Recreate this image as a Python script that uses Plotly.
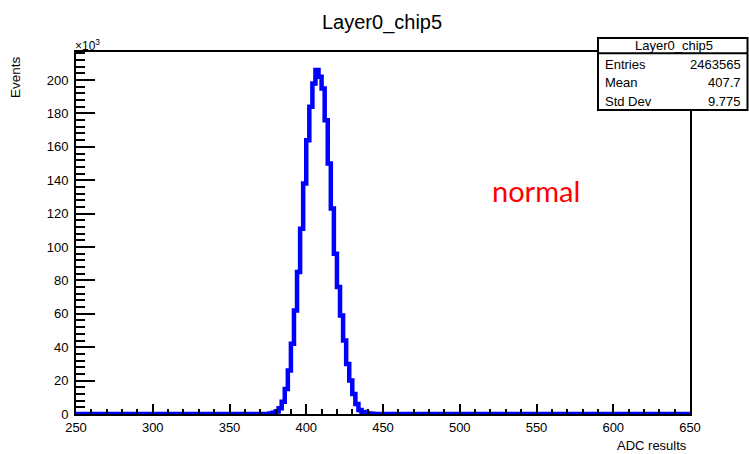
import plotly.graph_objects as go

# ---- data ----
x_min, x_max, bin_width = 250, 650, 2
peak_first_bin = 376  # lower edge of first non-empty bin
peak_counts_k = [0.3, 0.8, 1.5, 3.4, 7.4, 15, 26, 42, 62, 85, 111, 138, 164, 184,
                 198, 206, 202, 195, 176, 150, 123, 96, 76, 59, 44, 30, 20, 12,
                 6, 2.4, 1.2, 0.6, 0.3, 0.15]
y_ticks = [0, 20, 40, 60, 80, 100, 120, 140, 160, 180, 200]
x_ticks = [250, 300, 350, 400, 450, 500, 550, 600, 650]
stats_title = "Layer0_chip5"
stats_rows = [("Entries", "2463565"), ("Mean", "407.7"), ("Std Dev", "9.775")]

# build the full histogram (bins with no entries are zero)
n_bins = (x_max - x_min) // bin_width
edges = [x_min + i * bin_width for i in range(n_bins + 1)]
counts = [0.0] * n_bins
start = (peak_first_bin - x_min) // bin_width
for i, c in enumerate(peak_counts_k):
    counts[start + i] = c
y_step = counts + [counts[-1]]

# ---- geometry helpers (pixel -> paper) ----
W, H = 749, 454
L, R, T, B = 76, 690, 52, 414
def fx(px):
    return (px - L) / (R - L)
def fy(py):
    return (B - py) / (B - T)

fig = go.Figure()
fig.add_trace(go.Scatter(
    x=edges, y=y_step, mode="lines", line=dict(color="#0000FF", width=4.5, shape="hv"),
    hoverinfo="skip", showlegend=False))

font_axis = "Liberation Sans, Arial, sans-serif"

fig.update_layout(
    width=W, height=H,
    margin=dict(l=L, r=W - R, t=T, b=H - B, pad=0),
    paper_bgcolor="white", plot_bgcolor="white",
    showlegend=False,
    font=dict(family=font_axis, color="black", size=13),
    xaxis=dict(
        range=[x_min, x_max], tickvals=x_ticks, ticktext=[str(v) for v in x_ticks],
        ticks="inside", ticklen=10, tickwidth=1.5, tickcolor="black",
        minor=dict(ticks="inside", ticklen=5, dtick=10, tickwidth=1.5, tickcolor="black", showgrid=False),
        showline=True, linecolor="black", linewidth=2, mirror=True,
        showgrid=False, zeroline=False, tickfont=dict(size=13),
    ),
    yaxis=dict(
        range=[0, 216.8], tickvals=y_ticks, ticktext=[str(v) for v in y_ticks],
        ticks="inside", ticklen=19, tickwidth=1.5, tickcolor="black",
        minor=dict(ticks="inside", ticklen=9, dtick=4, tickwidth=1.5, tickcolor="black", showgrid=False),
        showline=True, linecolor="black", linewidth=2, mirror=True,
        showgrid=False, zeroline=False, tickfont=dict(size=13),
        ticklabelstandoff=3,
    ),
)

annotations = [
    dict(text="Layer0_chip5", x=fx(382), y=fy(22), xref="paper", yref="paper",
         xanchor="center", yanchor="middle", showarrow=False,
         font=dict(size=20, family=font_axis, color="black")),
    dict(text="×10<sup>3</sup>", x=fx(73), y=fy(45), xref="paper", yref="paper",
         xanchor="left", yanchor="middle", showarrow=False,
         font=dict(size=12, family=font_axis, color="black")),
    dict(text="Events", x=fx(15), y=fy(77), xref="paper", yref="paper",
         xanchor="center", yanchor="middle", textangle=-90, showarrow=False,
         font=dict(size=13.5, family=font_axis, color="black")),
    dict(text="ADC results", x=fx(689), y=fy(445.5), xref="paper", yref="paper",
         xanchor="right", yanchor="middle", showarrow=False,
         font=dict(size=13, family=font_axis, color="black")),
    dict(text="normal", x=fx(536), y=fy(190), xref="paper", yref="paper",
         xanchor="center", yanchor="middle", showarrow=False,
         font=dict(size=29, family="Lato, Carlito, sans-serif", color="#FF0000")),
    dict(text=stats_title, x=fx(674), y=fy(45.5), xref="paper", yref="paper",
         xanchor="center", yanchor="middle", showarrow=False,
         font=dict(size=13, family=font_axis, color="black")),
]
row_y = [65, 82, 101]
for (lab, val), py in zip(stats_rows, row_y):
    annotations.append(dict(text=lab, x=fx(603), y=fy(py), xref="paper", yref="paper",
                            xanchor="left", yanchor="middle", showarrow=False,
                            font=dict(size=13, family=font_axis, color="black")))
    annotations.append(dict(text=val, x=fx(743), y=fy(py), xref="paper", yref="paper",
                            xanchor="right", yanchor="middle", showarrow=False,
                            font=dict(size=13, family=font_axis, color="black")))
fig.update_layout(annotations=annotations)

fig.update_layout(shapes=[
    dict(type="rect", xref="paper", yref="paper",
         x0=fx(598), x1=fx(747.5), y0=fy(110), y1=fy(38),
         fillcolor="white", line=dict(color="black", width=2), layer="above"),
    dict(type="line", xref="paper", yref="paper",
         x0=fx(598), x1=fx(747.5), y0=fy(53.3), y1=fy(53.3),
         line=dict(color="black", width=2), layer="above"),
])

fig.write_html("out.html",
               config={"displayModeBar": False},
               post_script="document.body.style.margin='0px';document.body.style.padding='0px';")
